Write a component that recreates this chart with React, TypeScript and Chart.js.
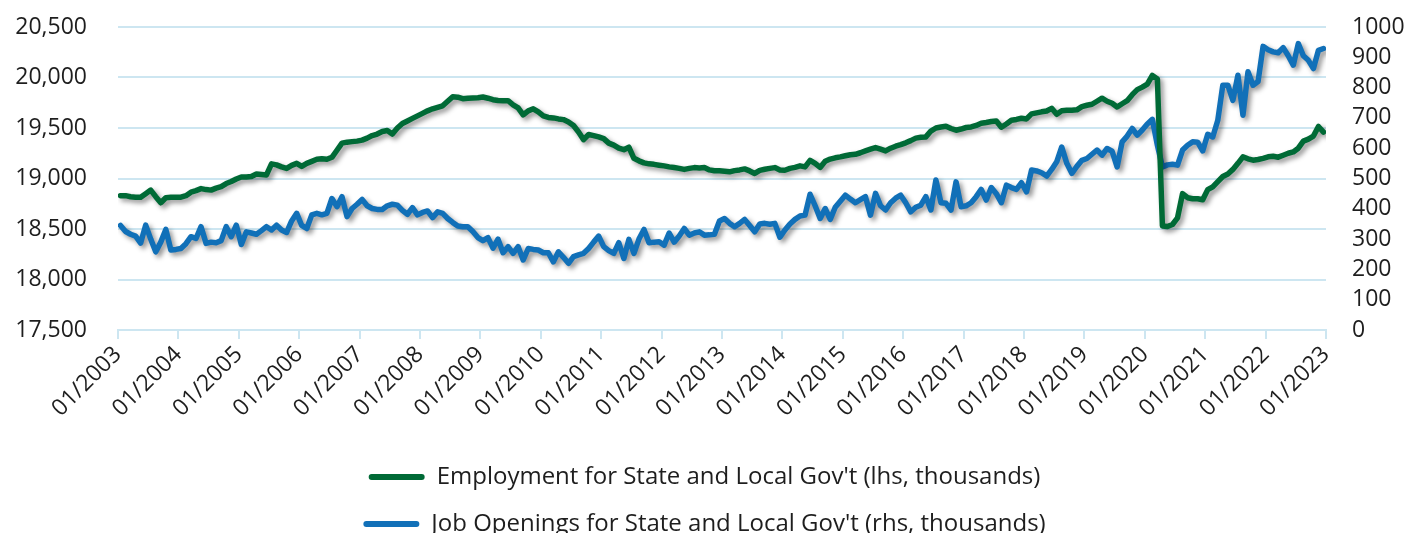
import { useEffect, useRef } from 'react';
import { Chart, registerables } from 'chart.js';

Chart.register(...registerables);

const xTickLabels = [
  '01/2003', '01/2004', '01/2005', '01/2006', '01/2007', '01/2008', '01/2009',
  '01/2010', '01/2011', '01/2012', '01/2013', '01/2014', '01/2015', '01/2016',
  '01/2017', '01/2018', '01/2019', '01/2020', '01/2021', '01/2022', '01/2023',
];

const seriesNames = [
  "Employment for State and Local Gov't (lhs, thousands)",
  "Job Openings for State and Local Gov't (rhs, thousands)",
];

// Monthly, 01/2003 .. 12/2022
const employment = [
  18830, 18830, 18820, 18815, 18815, 18850, 18885, 18820, 18760, 18810, 18815, 18815,
  18815, 18830, 18865, 18880, 18900, 18890, 18885, 18905, 18920, 18950, 18970, 18995,
  19015, 19015, 19020, 19045, 19040, 19035, 19145, 19135, 19115, 19100, 19130, 19150,
  19120, 19150, 19170, 19190, 19195, 19190, 19210, 19280, 19350, 19360, 19365, 19370,
  19380, 19400, 19425, 19440, 19465, 19475, 19440, 19500, 19545, 19570, 19595, 19620,
  19645, 19670, 19690, 19705, 19720, 19765, 19810, 19805, 19790, 19795, 19798, 19800,
  19807, 19795, 19780, 19772, 19770, 19770, 19730, 19700, 19630, 19670, 19690, 19660,
  19620, 19605, 19600, 19590, 19583, 19560, 19525, 19460, 19385, 19435, 19425, 19412,
  19395, 19350, 19330, 19300, 19285, 19310, 19200, 19175, 19155, 19145, 19140, 19132,
  19125, 19115, 19108, 19100, 19090, 19100, 19108, 19105, 19108, 19085, 19076, 19076,
  19072, 19066, 19078, 19085, 19095, 19075, 19050, 19080, 19092, 19100, 19108, 19085,
  19082, 19100, 19110, 19125, 19115, 19180, 19150, 19110, 19170, 19192, 19205, 19214,
  19225, 19235, 19240, 19255, 19273, 19290, 19306, 19290, 19273, 19300, 19320, 19335,
  19353, 19375, 19400, 19408, 19412, 19470, 19500, 19510, 19517, 19495, 19478, 19490,
  19505, 19510, 19525, 19547, 19555, 19565, 19570, 19508, 19540, 19577, 19585, 19597,
  19590, 19640, 19650, 19660, 19668, 19695, 19636, 19670, 19676, 19676, 19680, 19712,
  19725, 19735, 19765, 19795, 19765, 19745, 19708, 19740, 19770, 19830, 19880, 19905,
  19935, 20020, 19985, 18530, 18525, 18545, 18610, 18850, 18810, 18800, 18800, 18790,
  18890, 18918, 18970, 19020, 19045, 19090, 19150, 19214, 19195, 19181, 19188, 19200,
  19215, 19220, 19211, 19230, 19250, 19263, 19300, 19370, 19390, 19420, 19515, 19460,
];

const jobOpenings = [
  345, 325, 316, 310, 287, 346, 300, 258, 290, 332, 264, 266,
  269, 285, 308, 302, 341, 286, 290, 288, 295, 341, 308, 346,
  282, 324, 320, 316, 328, 341, 330, 346, 330, 322, 360, 385,
  345, 335, 380, 385, 380, 385, 434, 407, 440, 374, 401, 415,
  431, 410, 401, 398, 398, 410, 415, 412, 395, 382, 404, 380,
  388, 393, 371, 390, 385, 368, 355, 343, 341, 341, 325, 305,
  295, 305, 270, 300, 255, 275, 253, 275, 231, 269, 266, 264,
  255, 255, 225, 258, 240, 220, 242, 248, 253, 269, 290, 310,
  275, 262, 253, 288, 236, 299, 253, 300, 332, 288, 290, 291,
  280, 320, 290, 310, 335, 313, 320, 324, 313, 314, 316, 360,
  368, 352, 341, 352, 365, 345, 324, 350, 352, 349, 352, 306,
  330, 350, 365, 376, 379, 448, 410, 368, 401, 365, 405, 425,
  445, 432, 420, 430, 440, 379, 451, 410, 396, 420, 435, 445,
  420, 390, 405, 412, 440, 396, 495, 420, 418, 396, 489, 407,
  410, 420, 440, 464, 429, 470, 450, 420, 478, 470, 464, 486,
  456, 528, 525, 519, 508, 530, 555, 604, 550, 517, 540, 560,
  566, 580, 594, 577, 599, 590, 538, 621, 640, 665, 643, 660,
  680, 695, 610, 538, 545, 547, 544, 594, 610, 621, 620, 591,
  646, 637, 692, 808, 808, 758, 841, 709, 852, 808, 820, 936,
  925, 918, 915, 932, 905, 874, 945, 905, 890, 863, 923, 929,
];

const GREEN = '#006a36';
const BLUE = '#1170b8';
const GRID = '#cde6f1';
const TEXT = '#1e1e1e';
const FONT = '"Open Sans", "Noto Sans", sans-serif';

const shadowPlugin = {
  id: 'lineShadow',
  beforeDatasetDraw(chart: any) {
    const ctx = chart.ctx;
    ctx.save();
    ctx.shadowColor = 'rgba(0,0,0,0.42)';
    ctx.shadowBlur = 5;
    ctx.shadowOffsetX = 3;
    ctx.shadowOffsetY = 3;
  },
  afterDatasetDraw(chart: any) {
    chart.ctx.restore();
  },
};

const noPad = (s: any) => {
  s.paddingTop = 0;
  s.paddingBottom = 0;
};

export default function App() {
  const canvasRef = useRef<HTMLCanvasElement | null>(null);

  useEffect(() => {
    if (!canvasRef.current) return;
    const chart = new Chart(canvasRef.current, {
      type: 'line',
      data: {
        datasets: [
          {
            label: seriesNames[0],
            data: employment.map((v, i) => ({ x: i + 0.5, y: v })),
            yAxisID: 'y',
            borderColor: GREEN,
            backgroundColor: GREEN,
            borderWidth: 5.5,
            pointRadius: 0,
            tension: 0,
            borderJoinStyle: 'round',
            borderCapStyle: 'round',
          },
          {
            label: seriesNames[1],
            data: jobOpenings.map((v, i) => ({ x: i + 0.5, y: v })),
            yAxisID: 'y1',
            borderColor: BLUE,
            backgroundColor: BLUE,
            borderWidth: 5.5,
            pointRadius: 0,
            tension: 0,
            borderJoinStyle: 'round',
            borderCapStyle: 'round',
          },
        ],
      },
      options: {
        animation: false,
        responsive: false,
        devicePixelRatio: 1,
        events: [],
        layout: { padding: { top: 27, left: 0, right: 0, bottom: 0 } },
        scales: {
          x: {
            type: 'linear',
            min: 0,
            max: 240,
            ticks: {
              stepSize: 12,
              autoSkip: false,
              minRotation: 45,
              maxRotation: 45,
              padding: 2,
              color: TEXT,
              font: { family: FONT, size: 23 },
              callback: (v: any) => xTickLabels[Math.round(Number(v) / 12)] ?? '',
            },
            grid: { drawOnChartArea: false, drawTicks: true, tickLength: 9, color: GRID, lineWidth: 2 },
            border: { display: true, color: GRID, width: 2 },
            afterFit: (s: any) => { s.height = 112; },
          },
          y: {
            position: 'left',
            min: 17500,
            max: 20500,
            ticks: {
              stepSize: 500,
              autoSkip: false,
              padding: 31,
              color: TEXT,
              font: { family: FONT, size: 23 },
              callback: (v: any) => Number(v).toLocaleString('en-US'),
            },
            grid: { color: GRID, lineWidth: 2, drawTicks: false },
            border: { display: false },
            afterFit: (s: any) => { s.width = 118; noPad(s); },
          },
          y1: {
            position: 'right',
            min: 0,
            max: 1000,
            ticks: {
              stepSize: 100,
              autoSkip: false,
              padding: 26,
              color: TEXT,
              font: { family: FONT, size: 23 },
              callback: (v: any) => String(v),
            },
            grid: { drawOnChartArea: false, drawTicks: false },
            border: { display: false },
            afterFit: (s: any) => { s.width = 83; noPad(s); },
          },
        },
        plugins: {
          tooltip: { enabled: false },
          legend: {
            position: 'bottom',
            align: 'center',
            labels: {
              boxWidth: 56,
              boxHeight: 6,
              padding: 23,
              useBorderRadius: true,
              borderRadius: 3,
              color: TEXT,
              font: { family: FONT, size: 24 },
              generateLabels: (c: any) =>
                c.data.datasets.map((ds: any, i: number) => ({
                  text: ds.label,
                  fillStyle: ds.borderColor,
                  strokeStyle: ds.borderColor,
                  lineWidth: 0,
                  hidden: false,
                  datasetIndex: i,
                  borderRadius: 3,
                  fontColor: TEXT,
                })),
            },
          },
        },
      },
      plugins: [shadowPlugin],
    } as any);
    return () => chart.destroy();
  }, []);

  return (
    <div style={{ position: 'absolute', left: 0, top: 0, width: 1409, height: 533, overflow: 'hidden', background: '#fff' }}>
      <canvas ref={canvasRef} width={1409} height={546} style={{ display: 'block' }} />
    </div>
  );
}
